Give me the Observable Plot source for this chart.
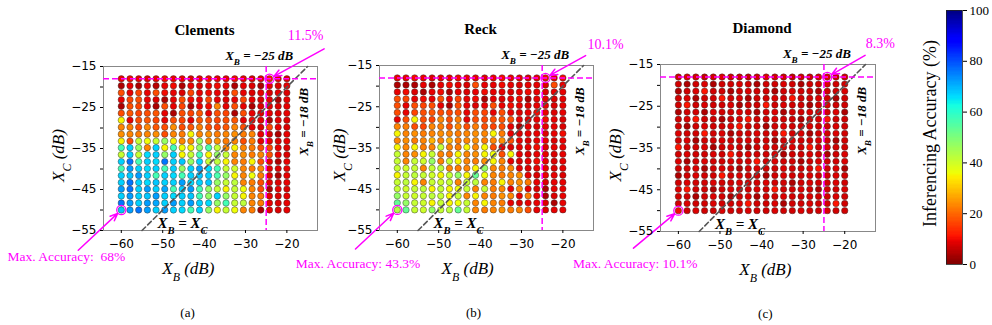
<!DOCTYPE html>
<html><head><meta charset="utf-8">
<script src="https://cdn.jsdelivr.net/npm/d3@7"></script>
<script src="https://cdn.jsdelivr.net/npm/@observablehq/plot@0.6"></script>
<style>
html,body{margin:0;padding:0;background:#fff;}
#chart{position:relative;width:992px;height:325px;overflow:hidden;background:#fff;}
#chart svg{position:absolute;left:0;top:0;}
</style></head><body><div id="chart"></div>
<script>
// ---------- data ----------
const xB = [-60, -57.9, -55.8, -53.7, -51.6, -49.5, -47.4, -45.3, -43.2, -41.1, -38.9, -36.8, -34.7, -32.6, -30.5, -28.4, -26.3, -24.2, -22.1, -20];
const xC = [-18, -19.7, -21.4, -23.1, -24.7, -26.4, -28.1, -29.8, -31.5, -33.2, -34.8, -36.5, -38.2, -39.9, -41.6, -43.3, -44.9, -46.6, -48.3, -50];
const xTicks = [-60, -50, -40, -30, -20];
const yTicks = [-55, -50, -45, -40, -35, -30, -25, -20, -15];
const accTicks = [0, 20, 40, 60, 80, 100];
const panelTitles = ["Clements", "Reck", "Diamond"];
const panelTags = ["(a)", "(b)", "(c)"];
const maxAccuracy = [68, 43.3, 10.1];
const cornerAccuracy = [11.5, 10.1, 8.3];

// rows: X_C = -18 (top) ... -50 (bottom); columns: X_B = -60 ... -20
const clementsAcc = [
 [9,10,9,8,9,10,9,9,8,9,10,9,9,10,9,8,9,11.5,9,8],
 [4,9,4,9,5,9,10,4,9,8,9,10,9,4,9,8,4,9,8,9],
 [17,9,16,9,17,10,9,8,16,9,10,9,8,17,9,8,9,8,9,8],
 [9,16,17,9,8,4,9,17,10,9,16,9,8,9,16,9,8,9,4,9],
 [4,17,16,9,4,17,9,16,4,9,10,23,9,17,9,4,8,9,8,9],
 [17,18,16,17,18,9,4,17,16,18,9,17,16,4,17,9,8,9,8,9],
 [35,9,17,18,16,9,17,16,9,18,17,16,17,18,9,10,9,4,9,8],
 [23,22,17,23,18,17,24,17,18,22,17,16,18,23,17,9,8,16,9,8],
 [24,23,22,23,24,17,23,22,35,23,24,22,23,24,22,23,9,8,4,9],
 [35,17,41,36,41,47,35,23,24,46,23,24,22,23,17,22,9,9,8,9],
 [57,67,47,23,67,35,57,36,35,47,56,41,23,35,23,22,17,16,9,8],
 [41,67,41,66,67,47,67,35,41,57,35,47,41,23,24,22,23,17,9,8],
 [67,76,57,67,66,76,67,68,47,67,41,42,35,23,22,35,17,9,4,9],
 [57,72,67,66,67,57,67,47,67,72,66,57,41,40,23,22,23,9,8,9],
 [67,68,72,67,57,67,66,57,67,68,67,56,47,35,23,36,22,9,4,9],
 [67,76,67,66,68,67,67,72,66,67,68,47,41,42,23,22,17,9,8,9],
 [72,76,67,72,67,71,57,67,72,57,47,41,35,41,36,23,17,4,9,8],
 [67,72,67,68,72,67,66,67,68,57,47,67,47,41,35,23,22,9,8,9],
 [76,72,67,72,71,67,72,67,72,67,66,47,57,41,42,23,22,9,8,9],
 [68,72,76,72,67,72,67,66,57,67,47,35,41,36,23,22,4,9,8,9]
];
const reckAcc = [
 [9,9,10,9,8,9,9,10,9,9,8,9,10,9,9,8,9,10.1,9,10],
 [4,4,4,9,4,9,10,9,8,17,9,9,10,9,8,9,9,8,17,9],
 [9,10,8,4,9,10,4,9,8,9,10,9,9,8,9,10,9,8,9,9],
 [17,16,9,10,9,17,9,16,9,10,4,9,8,9,10,4,9,9,8,9],
 [17,9,17,16,17,9,4,17,9,8,9,17,9,10,9,8,9,9,8,9],
 [17,9,16,17,18,17,16,17,9,17,16,9,17,9,8,9,10,9,8,9],
 [9,17,35,17,16,23,17,22,9,17,16,17,18,17,9,8,9,10,9,8],
 [23,22,17,16,23,22,17,23,17,22,17,16,17,9,4,9,8,9,9,8],
 [35,23,24,22,23,24,23,22,23,24,23,35,22,9,8,9,9,8,9,10],
 [23,24,22,23,28,23,28,22,23,24,22,23,24,17,9,8,9,9,8,9],
 [35,23,35,22,23,41,23,22,35,23,35,17,9,8,9,9,10,8,9,9],
 [41,23,24,35,41,23,22,35,23,24,35,36,17,35,9,8,9,9,8,9],
 [41,23,41,40,47,23,41,35,23,22,24,35,23,9,8,9,10,9,8,9],
 [41,40,41,23,41,42,23,22,23,35,47,23,22,23,9,8,9,9,8,9],
 [35,41,42,41,40,35,41,47,35,53,36,23,22,23,24,9,8,9,9,8],
 [41,42,35,23,41,40,41,23,41,42,23,22,35,23,24,22,9,8,9,9],
 [41,40,41,42,35,41,35,36,41,23,41,22,23,9,23,9,8,4,9,9],
 [47,41,40,41,42,41,35,41,23,35,23,22,24,23,9,22,9,4,8,9],
 [53,47,41,40,35,41,35,36,41,23,35,23,22,9,8,9,9,8,4,9],
 [43.3,53,41,40,47,41,42,53,41,23,22,23,24,22,23,17,9,8,9,9]
];
const diamondAcc = [
 [7,8,7,6,7,8,7,7,6,7,8,7,7,6,7,7,8,8.3,7,7],
 [7,4,7,8,4,7,7,8,7,4,7,7,8,7,4,7,7,8,7,7],
 [4,7,8,11,7,7,4,7,8,7,7,4,7,8,7,7,4,7,7,8],
 [7,8,4,7,7,11,7,8,4,7,7,8,7,11,7,7,8,7,4,7],
 [7,11,7,8,7,7,8,4,7,7,11,7,8,7,7,4,7,8,7,7],
 [4,7,7,4,8,7,7,8,7,4,7,8,4,7,7,8,7,7,8,4],
 [7,8,11,7,7,4,7,8,11,7,7,8,7,7,4,7,8,11,7,7],
 [7,4,7,8,7,7,8,11,7,7,4,7,8,7,7,8,7,7,8,7],
 [8,7,7,11,7,8,4,7,7,8,7,7,11,7,8,4,7,7,8,7],
 [7,8,4,7,7,8,7,7,8,7,7,4,7,8,7,7,8,7,4,7],
 [11,7,7,8,4,7,8,7,4,7,8,7,7,8,7,11,7,8,7,7],
 [7,8,7,7,8,7,11,7,8,7,7,8,4,7,7,8,7,4,7,8],
 [8,4,7,8,7,7,8,7,7,11,7,8,7,7,4,7,8,7,7,8],
 [7,7,8,4,7,8,7,4,7,8,7,7,8,7,7,8,11,7,8,4],
 [4,7,8,7,7,11,7,8,7,7,4,7,8,7,7,8,7,7,8,7],
 [7,8,7,7,8,7,7,8,7,7,8,7,7,4,7,8,7,7,8,7],
 [8,11,7,7,4,7,8,7,7,8,7,11,7,7,8,7,4,7,7,8],
 [7,7,4,7,8,7,4,7,8,4,7,7,8,7,7,8,7,7,8,7],
 [7,8,7,7,8,7,7,8,11,7,7,8,4,7,7,8,7,7,11,7],
 [10.1,7,8,7,7,8,7,7,8,7,7,8,7,7,8,7,7,8,7,7]
];
const accGrids = [clementsAcc, reckAcc, diamondAcc];

// ---------- helpers ----------
function seg(pts, t) {
  for (let i = 1; i < pts.length; i++) {
    if (t <= pts[i][0]) { const [a0, b0] = pts[i-1], [a1, b1] = pts[i]; return b0 + (b1 - b0) * (t - a0) / (a1 - a0); }
  }
  return pts[pts.length - 1][1];
}
const JR = [[0,0],[0.35,0],[0.66,1],[0.89,1],[1,0.5]];
const JG = [[0,0],[0.125,0],[0.375,1],[0.64,1],[0.91,0],[1,0]];
const JBl = [[0,0.5],[0.11,1],[0.34,1],[0.65,0],[1,0]];
const jetR = t => { const u = 1 - Math.max(0, Math.min(1, t)); return d3.rgb(255*seg(JR,u), 255*seg(JG,u), 255*seg(JBl,u)).formatHex(); };
const fmt = d => (d < 0 ? "\u2212" : "") + Math.abs(d);
const colorScale = {type: "linear", domain: [0, 100], interpolate: jetR};
const MAG = "#ff00ff";
const SERIF = "Liberation Serif";

function subscriptify(root) {
  root.querySelectorAll("text").forEach(t => {
    const targets = t.querySelector("tspan") ? [...t.querySelectorAll("tspan")] : [t];
    targets.forEach(el => {
      const s = el.textContent;
      if (!s.includes("_")) return;
      el.textContent = "";
      s.split(/_(\w)/).forEach((p, i) => {
        if (!p) return;
        const ts = document.createElementNS("http://www.w3.org/2000/svg", "tspan");
        ts.textContent = p;
        if (i % 2 === 1) { ts.setAttribute("baseline-shift", "sub"); ts.setAttribute("font-size", "70%"); }
        el.appendChild(ts);
      });
    });
  });
}

// layout of each panel (frame in pixels) and annotation offsets
const layout = [
  {left:103, right:317, top:66, bottom:230, ylabDx:-45, xlabX:-43.8, tagX:-44.0, maxDx:4, maxDy:47, topDx:36, topDy:-43, topArrow:[-11.0,-10.7], botArrow:[-70.4,-59.8], maxPad:"  "},
  {left:379, right:593, top:65, bottom:230, ylabDx:-40, xlabX:-43.0, tagX:-41.6, maxDx:23, maxDy:54, topDx:60, topDy:-33, topArrow:[-14.5,-12.6], botArrow:[-70.1,-59.5], maxPad:" "},
  {left:660, right:875, top:64, bottom:231, ylabDx:-45, xlabX:-39.1, tagX:-39.1, maxDx:19, maxDy:53, topDx:53, topDy:-34, topArrow:[-15.1,-12.8], botArrow:[-70.8,-59.0], maxPad:" "}
];

const chart = document.getElementById("chart");

accGrids.forEach((grid, p) => {
  const L = layout[p];
  const cells = [];
  grid.forEach((row, i) => row.forEach((v, j) => cells.push({xB: xB[j], xC: xC[i], acc: v})));
  const maxPt = {x: xB[0], y: xC[xC.length - 1]};
  const cornerPt = {x: xB[17], y: xC[0]};
  const svg = Plot.plot({
    width: 992, height: 325,
    marginLeft: L.left, marginRight: 992 - L.right, marginTop: L.top, marginBottom: 325 - L.bottom,
    style: {background: "transparent", overflow: "visible"},
    x: {domain: [-64.3, -12.6]},
    y: {domain: [-55, -15]},
    color: colorScale,
    marks: [
      Plot.frame({stroke: "#888", strokeWidth: 1}),
      Plot.dot(cells, {x: "xB", y: "xC", fill: "acc", r: 3.2, stroke: "#333", strokeOpacity: 0.65, strokeWidth: 0.7}),
      Plot.line([{x: -55, y: -55}, {x: -15, y: -15}], {x: "x", y: "y", stroke: "#555", strokeWidth: 1.6, strokeDasharray: "5,3"}),
      Plot.ruleY([-18], {stroke: MAG, strokeWidth: 1.5, strokeDasharray: "6,3"}),
      Plot.ruleX([-25], {stroke: MAG, strokeWidth: 1.5, strokeDasharray: "6,3"}),
      Plot.dot([maxPt, cornerPt], {x: "x", y: "y", r: 4.6, stroke: MAG, strokeWidth: 1.3, fill: "none"}),
      Plot.arrow([{x1: L.botArrow[0], y1: L.botArrow[1], x2: maxPt.x, y2: maxPt.y}], {x1: "x1", y1: "y1", x2: "x2", y2: "y2", stroke: MAG, strokeWidth: 1.5, headLength: 8, headAngle: 45, insetEnd: 5}),
      Plot.arrow([{x1: L.topArrow[0], y1: L.topArrow[1], x2: cornerPt.x, y2: cornerPt.y}], {x1: "x1", y1: "y1", x2: "x2", y2: "y2", stroke: MAG, strokeWidth: 1.5, headLength: 8, headAngle: 45, insetEnd: 5}),
      Plot.text([maxPt], {x: "x", y: "y", text: () => "Max. Accuracy:" + L.maxPad + maxAccuracy[p] + "%", textAnchor: "end", dx: L.maxDx, dy: L.maxDy, fill: MAG, fontFamily: SERIF, fontSize: 13.5}),
      Plot.text([cornerPt], {x: "x", y: "y", text: () => cornerAccuracy[p] + "%", dx: L.topDx, dy: L.topDy, fill: MAG, fontFamily: SERIF, fontSize: 14}),
      Plot.text([panelTitles[p]], {frameAnchor: "top", lineAnchor: "middle", textAnchor: "middle", text: d => d, dx: -6, dy: -36, fontFamily: SERIF, fontWeight: "bold", fontSize: 15}),
      Plot.text(["X_B = \u221225 dB"], {x: [-25], frameAnchor: "top", lineAnchor: "middle", text: d => d, dx: -7, dy: -11, fontFamily: SERIF, fontWeight: "bold", fontStyle: "italic", fontSize: 13}),
      Plot.text(["X_B = \u221218 dB"], {x: [-15.8], y: [-28.5], text: d => d, rotate: -90, fontFamily: SERIF, fontWeight: "bold", fontStyle: "italic", fontSize: 13}),
      Plot.text(["X_B = X_C"], {x: [-45.2], y: [-53.2], text: d => d, fontFamily: SERIF, fontWeight: "bold", fontStyle: "italic", fontSize: 15}),
      Plot.axisX({ticks: xTicks, tickFormat: fmt, tickSize: 3, tickPadding: 6, fontFamily: "DejaVu Sans", fontSize: 12, label: null}),
      Plot.axisY({ticks: yTicks, tickFormat: d => ((d + 55) % 10 === 0 ? fmt(d) : ""), tickSize: 3, tickPadding: 4, fontFamily: "DejaVu Sans", fontSize: 12, label: null}),
      Plot.text(["X_B (dB)"], {x: [L.xlabX], frameAnchor: "bottom", lineAnchor: "middle", text: d => d, dy: 38, fontFamily: SERIF, fontStyle: "italic", fontSize: 17}),
      Plot.text(["X_C (dB)"], {frameAnchor: "left", textAnchor: "middle", lineAnchor: "middle", text: d => d, dx: L.ylabDx, dy: 7, rotate: -90, fontFamily: SERIF, fontStyle: "italic", fontSize: 17}),
      Plot.text([panelTags[p]], {x: [L.tagX], frameAnchor: "bottom", lineAnchor: "middle", text: d => d, dy: 82, fontFamily: SERIF, fontSize: 13})
    ]
  });
  subscriptify(svg);
  chart.appendChild(svg);
});

// colorbar
const cbData = d3.range(0, 100, 0.5).map(v => ({y1: v, y2: v + 0.5, v: v + 0.25}));
const cb = Plot.plot({
  width: 992, height: 325,
  marginLeft: 946, marginRight: 30, marginTop: 10, marginBottom: 61,
  style: {background: "transparent", overflow: "visible"},
  y: {domain: [0, 100], axis: null},
  color: colorScale,
  marks: [
    Plot.barY(cbData, {y1: "y1", y2: "y2", fill: "v", shapeRendering: "crispEdges"}),
    Plot.frame({stroke: "#222", strokeWidth: 0.8}),
    Plot.axisY({anchor: "right", ticks: accTicks, tickSize: 4, tickPadding: 3, fontFamily: SERIF, fontSize: 13, label: null}),
    Plot.text(["Inferencing Accuracy (%)"], {frameAnchor: "left", textAnchor: "middle", lineAnchor: "middle", text: d => d, dx: -16, dy: -4, rotate: -90, fontFamily: SERIF, fontSize: 18})
  ]
});
chart.appendChild(cb);
</script></body></html>
